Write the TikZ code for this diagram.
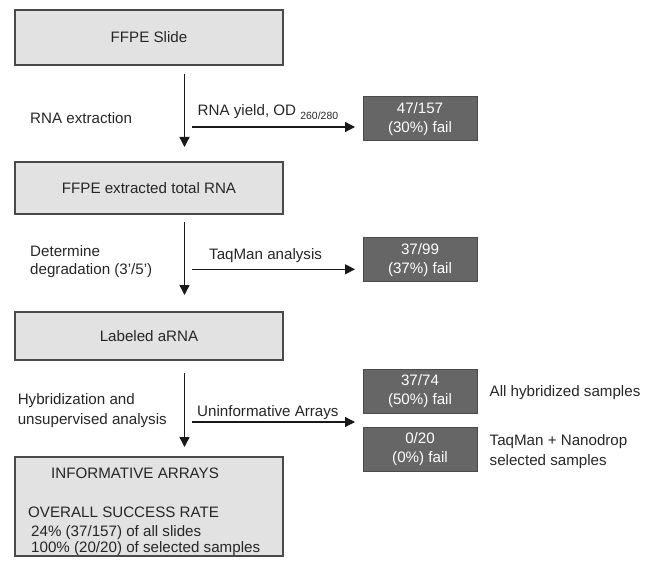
\documentclass[tikz,border=0pt]{standalone}
\usepackage{fontspec}
\setmainfont{Liberation Sans}
\usetikzlibrary{arrows.meta}
\definecolor{lightbox}{HTML}{E2E2E2}
\definecolor{darkbox}{HTML}{666666}
\definecolor{edgecol}{HTML}{4A4A4A}
\begin{document}
\begin{tikzpicture}[x=1bp,y=-1bp,
  every node/.style={font=\fontsize{15.2}{19}\selectfont, inner sep=0pt, text=black!85},
  stagebox/.style={draw=edgecol, line width=1.2bp, fill=lightbox, minimum width=268bp},
  failbox/.style={draw=edgecol, line width=1bp, fill=darkbox, text=white, minimum width=114bp, minimum height=44bp, align=center},
  flow/.style={line width=1.3bp, draw=black!90, -{Triangle[length=10bp,width=10bp]}},
  lbl/.style={anchor=base west}]
\useasboundingbox (0,0) rectangle (655,563);

% main stage boxes
\node[stagebox, minimum height=55bp] (b1) at (149,37.5) {FFPE Slide};
\node[stagebox, minimum height=52bp] (b2) at (149,188) {FFPE extracted total RNA};
\node[stagebox, minimum height=48bp] (b3) at (149,336) {Labeled aRNA};
\node[stagebox, minimum height=99bp] (b4) at (149,506.5) {};

% text in final box
\node[lbl] (t1) at (51,478.7) {INFORMATIVE ARRAYS};
\node[lbl] (t2) at (28,517.4) {OVERALL SUCCESS RATE};
\node[lbl] (t3) at (31,536.2) {24\% (37/157) of all slides};
\node[lbl] (t4) at (31,552.6) {100\% (20/20) of selected samples};

% fail boxes
\node[failbox] (f1) at (420,119) {47/157\\(30\%) fail};
\node[failbox] (f2) at (420,259.8) {37/99\\(37\%) fail};
\node[failbox] (f3) at (420,391) {37/74\\(50\%) fail};
\node[failbox] (f4) at (420,449) {0/20\\(0\%) fail};

% vertical arrows
\coordinate (v1s) at (184.5,74);  \coordinate (v1e) at (184.5,147);
\coordinate (v2s) at (184.5,222); \coordinate (v2e) at (184.5,295);
\coordinate (v3s) at (184.5,373); \coordinate (v3e) at (184.5,447);
\draw[flow] (v1s) -- (v1e);
\draw[flow] (v2s) -- (v2e);
\draw[flow] (v3s) -- (v3e);

% horizontal arrows
\coordinate (h1s) at (192,127);   \coordinate (h1e) at (355,127);
\coordinate (h2s) at (192,269.3); \coordinate (h2e) at (355,269.3);
\coordinate (h3s) at (192,422);   \coordinate (h3e) at (355,422);
\draw[flow] (h1s) -- (h1e);
\draw[flow] (h2s) -- (h2e);
\draw[flow] (h3s) -- (h3e);

% left labels
\node[lbl] (l1) at (30,123.5) {RNA extraction};
\node[lbl] (l2a) at (30,256.1) {Determine};
\node[lbl] (l2b) at (30,274.6) {degradation (3'/5')};
\node[lbl] (l3a) at (17.6,404.7) {Hybridization and};
\node[lbl] (l3b) at (17.6,424.7) {unsupervised analysis};

% arrow labels
\node[lbl] (a1) at (197.5,115.5) {RNA yield, OD {\fontsize{10.5}{12}\selectfont\raisebox{-4bp}{260/280}}};
\node[lbl] (a2) at (209,259.7) {TaqMan analysis};
\node[lbl] (a3) at (197,416.4) {Uninformative Arrays};

% right labels
\node[lbl] (r1) at (489.5,396) {All hybridized samples};
\node[lbl] (r2a) at (489.5,445.4) {TaqMan + Nanodrop};
\node[lbl] (r2b) at (489.5,465.4) {selected samples};
\end{tikzpicture}
\end{document}
